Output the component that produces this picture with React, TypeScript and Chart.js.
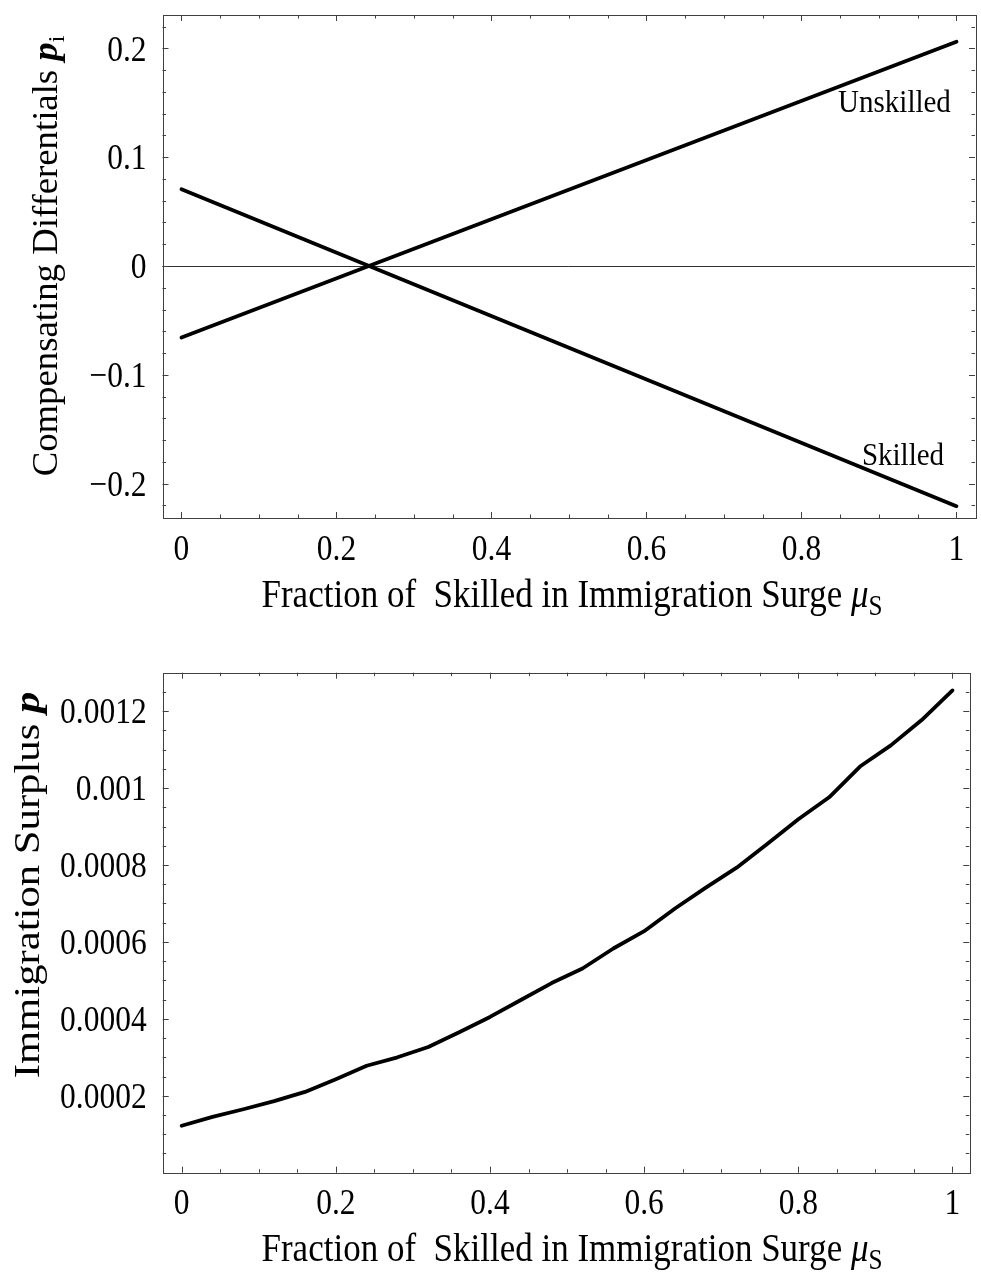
import { useEffect, useRef } from "react";
import { Chart, registerables } from "chart.js";

Chart.register(...registerables);

const SERIF = "'Liberation Serif', 'Times New Roman', Times, serif";

// Horizontal axis: fraction of skilled workers in the immigration surge
const xMajorTicks = [0, 0.2, 0.4, 0.6, 0.8, 1];
const xTickLabels = ["0", "0.2", "0.4", "0.6", "0.8", "1"];
const xMinorTicks = [0.05, 0.1, 0.15, 0.25, 0.3, 0.35, 0.45, 0.5, 0.55, 0.65, 0.7, 0.75, 0.85, 0.9, 0.95];

// Panel 1: compensating differentials of the two skill groups
const muEnds = [0, 1];
const unskilledP = [-0.0657, 0.206];
const skilledP = [0.0705, -0.2206];
const diffMajorTicks = [-0.2, -0.1, 0, 0.1, 0.2];
const diffTickLabels = ["\u22120.2", "\u22120.1", "0", "0.1", "0.2"];
const diffMinorTicks = [-0.22, -0.18, -0.16, -0.14, -0.12, -0.08, -0.06, -0.04, -0.02, 0.02, 0.04, 0.06, 0.08, 0.12, 0.14, 0.16, 0.18, 0.22];

// Panel 2: immigration surplus
const muGrid = [0, 0.04, 0.08, 0.12, 0.16, 0.2, 0.24, 0.28, 0.32, 0.36, 0.4, 0.44, 0.48, 0.52, 0.56, 0.6, 0.64, 0.68, 0.72, 0.76, 0.8, 0.84, 0.88, 0.92, 0.96, 1];
const surplus = [
  0.000122, 0.000145, 0.000165, 0.000186, 0.00021, 0.000243, 0.000278, 0.0003, 0.000327,
  0.000365, 0.000405, 0.000449, 0.000493, 0.000531, 0.000583, 0.000628, 0.000687, 0.000741,
  0.000793, 0.000855, 0.000919, 0.000976, 0.001056, 0.001111, 0.001177, 0.001254,
];
const surplusMajorTicks = [0.0002, 0.0004, 0.0006, 0.0008, 0.001, 0.0012];
const surplusTickLabels = ["0.0002", "0.0004", "0.0006", "0.0008", "0.001", "0.0012"];
const surplusMinorTicks = [
  0.00005, 0.0001, 0.00015, 0.00025, 0.0003, 0.00035, 0.00045, 0.0005, 0.00055, 0.00065,
  0.0007, 0.00075, 0.00085, 0.0009, 0.00095, 0.00105, 0.0011, 0.00115, 0.00125,
];

type Run = { t: string; style?: string; scale?: number; dy?: number };

function runFont(size: number, r: Run) {
  return `${r.style ?? ""} ${size * (r.scale ?? 1)}px ${SERIF}`;
}

// Draws a line of mixed-style text centred on (x, y) baseline, optionally rotated
function drawRuns(
  ctx: CanvasRenderingContext2D,
  runs: Run[],
  size: number,
  x: number,
  y: number,
  stretch: number,
  vertical: boolean
) {
  ctx.save();
  ctx.translate(x, y);
  if (vertical) {
    ctx.rotate(-Math.PI / 2);
    ctx.scale(stretch, 1);
  } else {
    ctx.scale(1, stretch);
  }
  let total = 0;
  for (const r of runs) {
    ctx.font = runFont(size, r);
    total += ctx.measureText(r.t).width;
  }
  let cx = -total / 2;
  ctx.textAlign = "left";
  ctx.textBaseline = "alphabetic";
  ctx.fillStyle = "#000";
  for (const r of runs) {
    ctx.font = runFont(size, r);
    ctx.fillText(r.t, cx, (r.dy ?? 0) * size);
    cx += ctx.measureText(r.t).width;
  }
  ctx.restore();
}

const TICK_FONT = 31.5;
const TICK_STRETCH = 1.15;
const FRAME_COLOR = "#404040";

// Mathematica-style frame: inward ticks on all four sides, labels on left and bottom
const framePlugin = {
  id: "frameTicks",
  beforeDatasetsDraw(chart: any, _args: any, opts: any) {
    if (!opts.zeroLine) return;
    const { ctx, chartArea: a, scales } = chart;
    const y = Math.round(scales.y.getPixelForValue(0)) + 0.5;
    ctx.save();
    ctx.strokeStyle = "#303030";
    ctx.lineWidth = 1;
    ctx.beginPath();
    ctx.moveTo(a.left, y);
    ctx.lineTo(a.right, y);
    ctx.stroke();
    ctx.restore();
  },
  afterDatasetsDraw(chart: any, _args: any, opts: any) {
    const { ctx, chartArea: a, scales } = chart;
    const xs = scales.x;
    const ys = scales.y;
    ctx.save();
    ctx.strokeStyle = FRAME_COLOR;
    ctx.lineWidth = 1;
    ctx.strokeRect(Math.round(a.left) + 0.5, Math.round(a.top) + 0.5, Math.round(a.right - a.left), Math.round(a.bottom - a.top));

    const xTick = (v: number, len: number) => {
      const px = Math.round(xs.getPixelForValue(v)) + 0.5;
      ctx.beginPath();
      ctx.moveTo(px, a.bottom);
      ctx.lineTo(px, a.bottom - len);
      ctx.moveTo(px, a.top);
      ctx.lineTo(px, a.top + len);
      ctx.stroke();
    };
    const yTick = (v: number, len: number) => {
      const py = Math.round(ys.getPixelForValue(v)) + 0.5;
      ctx.beginPath();
      ctx.moveTo(a.left, py);
      ctx.lineTo(a.left + len, py);
      ctx.moveTo(a.right, py);
      ctx.lineTo(a.right - len, py);
      ctx.stroke();
    };
    xs.ticks.forEach((t: any) => xTick(t.value, 6));
    opts.xMinor.forEach((v: number) => xTick(v, 3.5));
    ys.ticks.forEach((t: any) => yTick(t.value, 6));
    opts.yMinor.forEach((v: number) => yTick(v, 3.5));
    ctx.restore();

    // tick labels
    ctx.save();
    ctx.fillStyle = "#000";
    ctx.font = `${TICK_FONT}px ${SERIF}`;
    ctx.textBaseline = "alphabetic";
    xs.ticks.forEach((t: any, i: number) => {
      const px = xs.getPixelForValue(t.value);
      ctx.save();
      ctx.translate(px, a.bottom + opts.xLabelGap);
      ctx.scale(1, TICK_STRETCH);
      ctx.textAlign = "center";
      ctx.fillText(opts.xLabels[i], 0, 0);
      ctx.restore();
    });
    ys.ticks.forEach((t: any, i: number) => {
      const py = ys.getPixelForValue(t.value);
      ctx.save();
      ctx.translate(a.left - opts.yLabelGap, py + 0.34 * TICK_FONT * TICK_STRETCH);
      ctx.scale(1, TICK_STRETCH);
      ctx.textAlign = "right";
      ctx.fillText(opts.yLabels[i], 0, 0);
      ctx.restore();
    });
    ctx.restore();

    // curve annotations
    (opts.notes || []).forEach((n: any) => {
      ctx.save();
      ctx.translate(xs.getPixelForValue(n.x), ys.getPixelForValue(n.y));
      ctx.scale(1, 1.1);
      ctx.font = `29px ${SERIF}`;
      ctx.fillStyle = "#000";
      ctx.textAlign = "center";
      ctx.textBaseline = "middle";
      ctx.fillText(n.text, 0, 0);
      ctx.restore();
    });

    // axis titles
    const xt = opts.xTitle;
    drawRuns(ctx, xt.runs, xt.size, xt.x, xt.y, xt.stretch, false);
    const yt = opts.yTitle;
    drawRuns(ctx, yt.runs, yt.size, yt.x, yt.y, yt.stretch, true);
  },
};

const xTitleRuns: Run[] = [
  { t: "Fraction of  Skilled in Immigration Surge " },
  { t: "\u03bc", style: "italic" },
  { t: "S", scale: 0.72, dy: 0.2 },
];

function makeXScale(min: number, max: number, height: number) {
  return {
    type: "linear" as const,
    min,
    max,
    grid: { display: false, drawTicks: false },
    border: { display: false },
    ticks: { display: false },
    afterBuildTicks: (s: any) => {
      s.ticks = xMajorTicks.map((v) => ({ value: v }));
    },
    afterFit: (s: any) => {
      s.height = height;
    },
  };
}

function makeYScale(min: number, max: number, majors: number[], width: number) {
  return {
    type: "linear" as const,
    min,
    max,
    grid: { display: false, drawTicks: false },
    border: { display: false },
    ticks: { display: false },
    afterBuildTicks: (s: any) => {
      s.ticks = majors.map((v) => ({ value: v }));
    },
    afterFit: (s: any) => {
      s.width = width;
    },
  };
}

function DifferentialsChart() {
  const ref = useRef<HTMLCanvasElement>(null);
  useEffect(() => {
    const chart = new Chart(ref.current!, {
      type: "line",
      data: {
        datasets: [
          {
            label: "Unskilled",
            data: muEnds.map((m, i) => ({ x: m, y: unskilledP[i] })),
            borderColor: "#000",
            borderWidth: 3.8,
            borderCapStyle: "round",
            pointRadius: 0,
            tension: 0,
          },
          {
            label: "Skilled",
            data: muEnds.map((m, i) => ({ x: m, y: skilledP[i] })),
            borderColor: "#000",
            borderWidth: 3.8,
            borderCapStyle: "round",
            pointRadius: 0,
            tension: 0,
          },
        ],
      },
      options: {
        responsive: false,
        animation: false,
        layout: { padding: { top: 15, right: 6, left: 0, bottom: 0 } },
        scales: {
          x: makeXScale(-0.0245, 1.0239, 122),
          y: makeYScale(-0.2315, 0.2306, diffMajorTicks, 162.5),
        },
        plugins: {
          legend: { display: false },
          tooltip: { enabled: false },
          frameTicks: {
            zeroLine: true,
            xMinor: xMinorTicks,
            yMinor: diffMinorTicks,
            xLabels: xTickLabels,
            yLabels: diffTickLabels,
            xLabelGap: 42,
            yLabelGap: 16,
            notes: [
              { text: "Unskilled", x: 0.92, y: 0.149 },
              { text: "Skilled", x: 0.931, y: -0.1755 },
            ],
            xTitle: { runs: xTitleRuns, size: 35, x: 572, y: 607, stretch: 1.15 },
            yTitle: {
              runs: [
                { t: "Compensating Differentials " },
                { t: "p", style: "italic bold" },
                { t: "i", scale: 0.65, dy: 0.2 },
              ],
              size: 35,
              x: 57,
              y: 256,
              stretch: 1.05,
            },
          },
        } as any,
      },
      plugins: [framePlugin],
    });
    return () => chart.destroy();
  }, []);
  return <canvas ref={ref} width={981} height={640} style={{ display: "block" }} />;
}

function SurplusChart() {
  const ref = useRef<HTMLCanvasElement>(null);
  useEffect(() => {
    const chart = new Chart(ref.current!, {
      type: "line",
      data: {
        datasets: [
          {
            label: "Immigration surplus",
            data: muGrid.map((m, i) => ({ x: m, y: surplus[i] })),
            borderColor: "#000",
            borderWidth: 3.8,
            borderCapStyle: "round",
            borderJoinStyle: "round",
            pointRadius: 0,
            tension: 0,
          },
        ],
      },
      options: {
        responsive: false,
        animation: false,
        layout: { padding: { top: 32.7, right: 11.7, left: 0, bottom: 0 } },
        scales: {
          x: makeXScale(-0.0246, 1.0218, 105.3),
          y: makeYScale(0, 0.0013, surplusMajorTicks, 162.7),
        },
        plugins: {
          legend: { display: false },
          tooltip: { enabled: false },
          frameTicks: {
            zeroLine: false,
            xMinor: xMinorTicks,
            yMinor: surplusMinorTicks,
            xLabels: xTickLabels,
            yLabels: surplusTickLabels,
            xLabelGap: 41,
            yLabelGap: 16,
            notes: [],
            xTitle: { runs: xTitleRuns, size: 35, x: 572, y: 621, stretch: 1.15 },
            yTitle: {
              runs: [{ t: "Immigration Surplus " }, { t: "p", style: "italic bold" }],
              size: 35,
              x: 39,
              y: 245,
              stretch: 1.22,
            },
          },
        } as any,
      },
      plugins: [framePlugin],
    });
    return () => chart.destroy();
  }, []);
  return <canvas ref={ref} width={981} height={638} style={{ display: "block" }} />;
}

export default function App() {
  return (
    <div style={{ position: "absolute", left: 0, top: 0, width: 981, height: 1278, background: "#fff" }}>
      <DifferentialsChart />
      <SurplusChart />
    </div>
  );
}
